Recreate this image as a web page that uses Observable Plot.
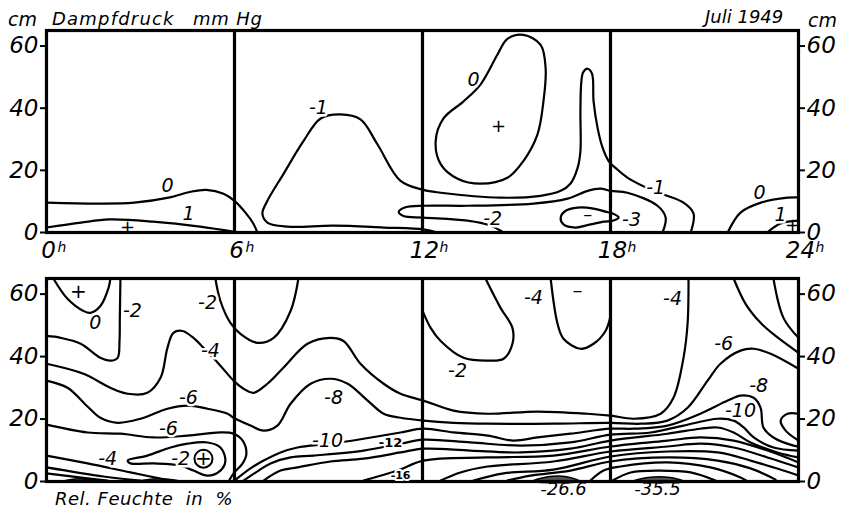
<!DOCTYPE html>
<html><head><meta charset="utf-8">
<script src="https://cdn.jsdelivr.net/npm/d3@7"></script>
<script src="https://cdn.jsdelivr.net/npm/@observablehq/plot@0.6"></script>
<style>
body{margin:0;background:#fff;}
#wrap{position:relative;width:847px;height:510px;background:#fff;overflow:hidden;font-family:"DejaVu Sans",sans-serif;}
.t{position:absolute;font-style:oblique;font-size:18px;line-height:18px;white-space:pre;color:#000;}
.p{position:absolute;left:0;}
</style></head>
<body><div id="wrap">
<div class="t" style="left:8px;top:10px;font-size:19px">cm</div>
<div class="t" style="left:52px;top:10px;letter-spacing:1.2px">Dampfdruck</div>
<div class="t" style="left:193px;top:10px;letter-spacing:0.8px">mm Hg</div>
<div class="t" style="left:705px;top:8px">Juli 1949</div>
<div class="t" style="left:808px;top:11px;font-size:19px">cm</div>
<div class="t" style="left:55px;top:490px;letter-spacing:0.5px">Rel. Feuchte  in  %</div>
<div id="top" class="p" style="top:0px"></div>
<div id="bot" class="p" style="top:262px"></div>
</div>
<script>
// ---------- axes ----------
const hours = [0, 6, 12, 18, 24];
const yTicks = [0, 20, 40, 60];
const dividers = [6, 12, 18];

// ---------- upper panel: Dampfdruck (mm Hg) isolines [hour, cm] ----------
const topZeroA = [[0,9.6],[1.7,9.3],[2.8,9.6],[3.9,11.2],[4.6,13.1],[5.1,13.7],[5.65,12.5],[6.0,10.2],[6.35,6.4],[6.6,2.9],[6.73,0]];
const topOneA = [[0,1.6],[1.1,3.2],[2.0,4.2],[3.4,3.5],[4.9,1.9],[6.0,0.2]];
const topMinusOne = [[12.48,0],[12.03,1.0],[10.76,1.6],[9.16,2.2],[7.69,1.9],[7.05,3.2],[6.89,6.1],[7.05,10.2],[7.56,18.8],[8.2,29.4],[8.75,36.7],[9.38,38.0],[10.02,36.4],[10.56,28.4],[11.3,16.6],[12.03,13.7],[12.58,12.8],[14.49,11.2],[15.77,11.8],[16.41,13.4],[16.72,15.7],[16.95,20.8],[17.04,26.2],[17.04,39.0],[17.07,48.6],[17.13,51.6],[17.27,52.7],[17.41,51.1],[17.46,42.2],[17.59,33.5],[17.75,27.2],[17.94,23.0],[18.16,20.8],[18.55,17.6],[19.37,13.4],[20.33,9.6],[20.65,6.1],[20.56,0]];
const topMinusTwo = [[14.59,0],[14.17,2.2],[13.44,3.8],[12.03,4.8],[11.39,5.3],[11.24,6.6],[11.46,8.1],[12.03,8.6],[13.44,8.6],[15.54,9.3],[16.63,10.9],[17.27,13.4],[17.68,14.1],[18.0,13.4],[18.54,12.8],[19.5,8.6],[19.76,4.8],[19.66,0]];
const topZeroC = [[21.74,0],[22.15,6.4],[22.8,9.6],[23.65,11.2],[24,11.3]];
const topOneC = [[23.0,0],[23.43,2.9],[24,3.8]];
const topMinusThree = [[16.41,4.8],[16.57,7.0],[16.95,8.0],[17.46,7.7],[17.84,6.7],[18.07,6.1],[18.26,4.8],[18.07,3.8],[17.78,3.5],[17.36,2.6],[16.88,1.6],[16.5,2.6]];
const topZeroB = [[15.22,63.6],[15.77,60.4],[15.93,52.7],[15.86,42.2],[15.67,31.6],[15.22,23.0],[14.71,17.6],[13.85,15.7],[13.12,17.3],[12.58,22.0],[12.42,29.4],[12.67,36.7],[13.31,42.2],[13.85,47.6],[14.39,57.2],[14.71,62.3]];

const topLabelH = [3.86, 4.53, 8.68, 13.63, 14.24, 18.67, 19.44, 22.76, 23.43];
const topLabelCm = [15.0, 6.1, 40.0, 49.2, 4.5, 4.2, 14.4, 12.8, 5.6];
const topLabelText = ["0", "1", "-1", "0", "-2", "-3", "-1", "0", "1"];
const topSignH = [2.59, 14.43, 23.81, 17.27];
const topSignCm = [1.8, 34.2, 2.2, 5.8];
const topSignText = ["+", "+", "+", "\u2013"];

// ---------- lower panel: Rel. Feuchte (%) isolines [hour, cm] ----------
const botZeroTop = [[0.22,65],[0.67,58.5],[1.18,54.6],[1.4,54.0],[1.72,56.2],[1.98,62.0],[2.04,65]];
const botMinusTwoA = [[2.36,65],[2.34,52],[2.33,45.0],[2.27,39.6],[2.04,38.7],[1.72,39.6],[1.09,44.1],[0.45,46.0],[0,46.6]];
const botMinusTwoB = [[5.39,65],[5.55,57.8],[5.87,50.8],[6.19,47.3],[6.73,44.4],[7.25,46.0],[7.79,54.6],[8.04,65]];
const botMinusTwoC = [[12.03,54.0],[12.26,49.2],[12.58,45.0],[13.31,39.6],[14.08,38.7],[14.59,39.3],[14.87,44.1],[14.87,49.2],[14.49,55.6],[14.01,65]];
const botMinusFourTop = [[16.09,65],[16.31,50.5],[16.5,45.7],[17.04,42.5],[17.46,44.1],[17.84,48.2],[18.0,53.0]];
const botMinusFour = [[0,37.7],[1.18,34.5],[2.04,30.0],[2.59,28.1],[3.22,28.4],[3.64,33.2],[3.86,42.8],[4.05,47.6],[4.34,48.2],[4.69,46.0],[5.01,42.8],[5.55,37.1],[5.97,32.3],[6.29,29.7],[6.61,28.4],[7.05,31.3],[7.56,36.4],[8.33,44.1],[9.06,46.0],[9.48,45.0],[10.02,37.7],[10.76,31.3],[11.3,28.1],[12.03,25.9],[12.99,22.7],[14.08,21.7],[15.67,22.4],[17.27,21.7],[18.0,21.1],[18.74,20.1],[19.6,21.7],[20.01,26.8],[20.33,39.6],[20.46,50.5],[20.49,65]];
const botMinusSix = [[0,32.3],[0.67,30.0],[1.31,24.0],[1.72,20.4],[2.27,18.8],[3.0,20.1],[3.86,23.3],[4.5,24.3],[5.14,23.3],[5.78,21.7],[5.97,20.4],[6.51,17.9],[6.93,16.3],[7.37,17.9],[7.79,24.9],[8.43,31.3],[9.06,32.9],[9.61,31.3],[10.25,25.9],[10.76,21.7],[11.3,20.4],[12.03,19.5],[12.99,18.8],[14.08,18.5],[16.18,18.5],[18.0,18.8],[18.96,18.5],[19.82,19.5],[20.46,23.6],[21.1,32.3],[21.51,37.7],[22.15,41.9],[22.57,42.5],[23.11,40.9],[24,36.1]];
const botMinusSixLow = [[0,18.2],[1.31,15.7],[2.36,15.3],[3.42,14.1],[4.5,14.7],[5.55,15.7],[5.97,15.3],[6.26,13.1],[6.38,8.9],[6.26,5.8],[5.97,2.6],[5.81,0]];
const botBandB = [[6.0,0.3],[6.51,4.2],[6.93,6.7],[7.47,9.3],[8.01,10.9],[9.06,12.1],[10.12,13.7],[11.3,15.7],[12.03,16.9],[12.99,15.7],[14.08,14.7],[14.9,13.1],[15.67,14.1],[16.72,15.3],[18.0,16.9],[18.74,16.9],[19.82,17.9],[20.87,21.7],[21.74,25.9],[22.15,27.5],[22.57,26.8],[22.79,23.6],[22.88,17.3],[23.2,14.1],[23.84,11.5],[24,11.2]];
const botBandC = [[6.29,0.3],[6.77,3.5],[7.15,5.8],[7.79,7.7],[8.52,8.3],[10.12,9.9],[11.3,12.1],[12.03,13.4],[13.53,12.5],[15.13,11.5],[16.72,12.5],[18.0,15.0],[19.28,15.7],[20.33,17.9],[21.42,20.1],[21.93,19.5],[22.25,17.3],[22.57,14.1],[23.2,10.9],[24,9.9]];
const botBandD = [[6.93,0.3],[7.47,3.5],[8.01,4.5],[9.06,6.4],[10.12,7.3],[11.3,9.3],[12.03,10.5],[13.53,9.9],[15.13,9.3],[16.72,10.5],[18.0,13.1],[19.82,15.3],[20.87,16.9],[21.42,17.3],[21.93,15.7],[22.47,12.5],[23.33,9.3],[24,7.7]];
const botBandE = [[10.12,0.3],[11.2,3.5],[12.03,6.7],[14.08,7.7],[16.18,8.3],[18.0,11.2],[19.82,13.1],[20.87,14.1],[21.93,13.1],[23.01,9.9],[24,6.1]];
const botBandF = [[12.58,0.3],[13.21,2.9],[14.08,4.8],[16.18,6.4],[18.0,9.6],[19.82,11.2],[20.87,12.1],[21.93,10.9],[23.01,7.7],[24,4.5]];
const botBandG = [[13.63,0.3],[14.59,2.6],[16.18,3.8],[18.0,8.0],[19.82,9.6],[21.42,9.3],[22.47,6.7],[23.52,3.5],[24,1.9]];
const botBandH = [[14.71,0.3],[15.45,1.9],[16.72,3.5],[18.0,6.4],[19.82,7.7],[21.42,6.7],[22.47,4.2],[23.27,0.6]];
const botBandI = [[17.36,0.3],[17.78,3.5],[18.32,4.8],[19.82,6.1],[21.19,4.5],[22.15,1.3],[22.34,0.3]];
const botBandJ = [[18.07,0.3],[18.64,2.9],[19.6,3.5],[20.56,2.9],[21.35,0.3]];
const botLowA = [[0,8.3],[1.31,5.8],[2.68,2.9],[3.96,0.3]];
const botLowB = [[0,4.5],[1.82,1.6],[3.0,0.3]];
const botLowC = [[0,2.6],[1.31,1.0],[1.95,0.3]];
const botRightA = [[21.93,65],[22.31,56.9],[22.79,50.8],[23.27,46.6],[24,41.2]];
const botRightB = [[23.2,65],[23.52,52.4],[24,46.0]];
const botRightLoop = [[24,21.7],[23.65,21.7],[23.43,19.5],[23.59,16.3],[24,13.1]];
const botMinusTwoLoop = [[2.59,6.7],[3.22,8.3],[3.96,10.9],[4.5,12.1],[5.14,12.5],[5.55,10.9],[5.71,6.7],[5.55,3.5],[5.14,1.9],[4.69,3.5],[4.28,5.1],[3.42,5.8],[2.68,5.8]];
const lensA = [[0.5,0],[0.9,0.8],[1.3,0.7],[1.6,0]];
const lensB = [[2.9,0],[3.4,0.8],[3.9,0.7],[4.3,0]];
const lensC = [[15.5,0],[16.0,1.5],[16.6,1.5],[17.05,0]];
const lensD = [[18.7,0],[19.2,1.3],[19.9,1.3],[20.35,0]];

const botLabelH = [1.56, 2.74, 5.14, 5.23, 4.53, 3.89, 1.95, 4.28, 9.16, 8.97, 13.12, 15.54, 19.98, 21.61, 22.73, 22.15];
const botLabelCm = [50.8, 54.6, 57.2, 41.9, 26.8, 16.9, 7.3, 7.3, 26.8, 13.1, 35.5, 58.8, 58.5, 44.1, 30.7, 22.5];
const botLabelText = ["0", "-2", "-2", "-4", "-6", "-6", "-4", "-2", "-8", "-10", "-2", "-4", "-4", "-6", "-8", "-10"];
const smallLabelH = [10.98, 11.3];
const smallLabelCm = [12.3, 2.0];
const smallLabelText = ["-12", "-16"];
const smallLabelSize = [13, 11];
const botSignH = [1.02, 5.01, 16.95];
const botSignCm = [60.7, 7.3, 61.0];
const botSignText = ["+", "+", "\u2013"];
const ringH = [5.01];
const ringCm = [7.3];
const extremeH = [16.5, 19.5];
const extremeText = ["-26.6", "-35.5"];

// ---------- helpers ----------
const rows = (lines) => lines.flatMap((pts, i) => pts.map(([h, cm]) => ({h, cm, id: i})));
const pts = (hs, cms, extra) => hs.map((h, i) => Object.assign({h, cm: cms[i]}, extra ? extra(i) : {}));
const FONT = "DejaVu Sans";

function panelMarks() {
  return [
    Plot.ruleX(dividers, {strokeWidth: 3.2, stroke: "#000"}),
    Plot.frame({strokeWidth: 3.2, stroke: "#000"}),
    Plot.axisY({anchor: "left", ticks: yTicks, tickSize: 6, tickPadding: 2, strokeWidth: 2, label: null,
      fontSize: 23, fontStyle: "oblique", fontFamily: FONT}),
    Plot.axisY({anchor: "right", ticks: yTicks, tickSize: 6, tickPadding: 2, strokeWidth: 2, label: null,
      fontSize: 23, fontStyle: "oblique", fontFamily: FONT})
  ];
}
const lineOpts = {x: "h", y: "cm", z: "id", stroke: "#000", strokeWidth: 2.2};
const labelOpts = {x: "h", y: "cm", text: "t", fontSize: 19, fontStyle: "oblique", fontFamily: FONT,
  fill: "#000", stroke: "#fff", strokeWidth: 5, paintOrder: "stroke"};

// ---------- upper plot ----------
const topPlot = Plot.plot({
  width: 847, height: 262, marginLeft: 46, marginRight: 49, marginTop: 30, marginBottom: 30,
  x: {domain: [0, 24], axis: null}, y: {domain: [0, 65], axis: null},
  style: {background: "transparent", overflow: "visible", fontFamily: FONT},
  marks: [
    Plot.line(rows([topZeroA, topOneA, topMinusOne, topMinusTwo, topZeroC, topOneC]), {...lineOpts, curve: "catmull-rom"}),
    Plot.line(rows([topMinusThree, topZeroB]), {...lineOpts, curve: "catmull-rom-closed"}),
    ...panelMarks(),
    Plot.text(pts(topLabelH, topLabelCm, i => ({t: topLabelText[i]})), labelOpts),
    Plot.text(pts(topSignH, topSignCm, i => ({t: topSignText[i]})), {x: "h", y: "cm", text: "t", fontSize: 18, fontFamily: FONT, fill: "#000"}),
    Plot.text(hours, {x: d => d, frameAnchor: "bottom", dy: 25, dx: 2, text: d => String(d), fontSize: 23, fontStyle: "oblique", fontFamily: FONT}),
    Plot.text(hours.filter(d => d < 10), {x: d => d, frameAnchor: "bottom", dy: 19, dx: 11, textAnchor: "start", text: () => "h", fontSize: 14, fontStyle: "oblique", fontFamily: FONT}),
    Plot.text(hours.filter(d => d >= 10), {x: d => d, frameAnchor: "bottom", dy: 19, dx: 17, textAnchor: "start", text: () => "h", fontSize: 14, fontStyle: "oblique", fontFamily: FONT})
  ]
});
document.getElementById("top").appendChild(topPlot);

// ---------- lower plot ----------
const botPlot = Plot.plot({
  width: 847, height: 248, marginLeft: 46, marginRight: 49, marginTop: 16, marginBottom: 29,
  x: {domain: [0, 24], axis: null}, y: {domain: [0, 65], axis: null},
  style: {background: "transparent", overflow: "visible", fontFamily: FONT},
  marks: [
    Plot.line(rows([lensA, lensB, lensC, lensD]), {...lineOpts, strokeWidth: 1.5, fill: "#555", curve: "catmull-rom-closed"}),
    Plot.line(rows([botZeroTop, botMinusTwoA, botMinusTwoB, botMinusTwoC, botMinusFourTop, botMinusFour, botMinusSix,
      botMinusSixLow, botBandB, botBandC, botBandD, botBandE, botBandF, botBandG, botBandH, botBandI, botBandJ,
      botLowA, botLowB, botLowC, botRightA, botRightB, botRightLoop]), {...lineOpts, curve: "catmull-rom"}),
    Plot.line(rows([botMinusTwoLoop]), {...lineOpts, curve: "catmull-rom-closed"}),
    ...panelMarks(),
    Plot.text(pts(botLabelH, botLabelCm, i => ({t: botLabelText[i]})), labelOpts),
    Plot.text(pts(smallLabelH, smallLabelCm, i => ({t: smallLabelText[i], s: smallLabelSize[i]})),
      {...labelOpts, fontSize: d => d.s, fontStyle: "normal", fontWeight: "bold", strokeWidth: 4}),
    Plot.dot(pts(ringH, ringCm), {x: "h", y: "cm", r: 9, stroke: "#000", strokeWidth: 2, fill: "#fff"}),
    Plot.text(pts(botSignH, botSignCm, i => ({t: botSignText[i]})), {x: "h", y: "cm", text: "t", fontSize: 20, fontFamily: FONT, fill: "#000"}),
    Plot.text(extremeH, {x: d => d, frameAnchor: "bottom", dy: 13, text: (d, i) => extremeText[i], fontSize: 18, fontStyle: "oblique", fontFamily: FONT})
  ]
});
document.getElementById("bot").appendChild(botPlot);
</script>
</body></html>
